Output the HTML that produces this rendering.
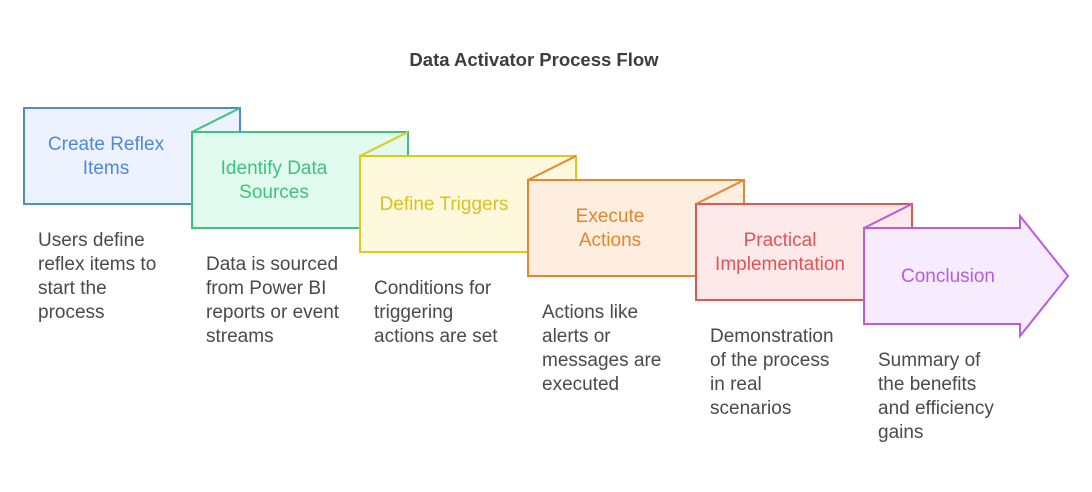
<!DOCTYPE html>
<html><head><meta charset="utf-8"><style>
html,body{margin:0;padding:0;background:#fff;}
svg{display:block;}
text{font-family:"Liberation Sans",sans-serif;}
.d{font-size:19px;fill:#4a4a4a;}
.l{font-size:19px;text-anchor:middle;}
</style></head><body>
<svg width="1092" height="492" viewBox="0 0 1092 492" xmlns="http://www.w3.org/2000/svg">
<text x="534" y="66" text-anchor="middle" style="font-size:18.5px;font-weight:bold;fill:#3d3d3d">Data Activator Process Flow</text>

<rect x="24" y="108" width="216" height="96" fill="#ecf2fe" stroke="#4f88e0" stroke-width="2"/>
<polygon points="192,132 240,108 240,132" fill="#ecf2fe"/>
<rect x="192" y="132" width="216" height="96" fill="#e1fbee" stroke="#3cc47c" stroke-width="2"/>
<line x1="192" y1="132" x2="240" y2="108" stroke="#3cc47c" stroke-width="2"/>
<line x1="240" y1="108" x2="240" y2="132" stroke="#4f88e0" stroke-width="2"/>
<rect x="360" y="156" width="216" height="96" fill="#fef9dc" stroke="#e0c81a" stroke-width="2"/>
<line x1="360" y1="156" x2="408" y2="132" stroke="#e0c81a" stroke-width="2"/>
<rect x="528" y="180" width="216" height="96" fill="#fdeedf" stroke="#e8842a" stroke-width="2"/>
<line x1="528" y1="180" x2="576" y2="156" stroke="#e8842a" stroke-width="2"/>
<rect x="696" y="204" width="216" height="96" fill="#fde9e9" stroke="#e55353" stroke-width="2"/>
<line x1="696" y1="204" x2="744" y2="180" stroke="#e8842a" stroke-width="2"/>
<polygon points="864,228 1020,228 1020,216 1068,276 1020,336 1020,324 864,324" fill="#f7ecfd" stroke="#b95ce0" stroke-width="2"/>
<line x1="864" y1="228" x2="912" y2="204" stroke="#b95ce0" stroke-width="2"/>

<text class="l" fill="#4f88e0" x="106" y="150">Create Reflex</text>
<text class="l" fill="#4f88e0" x="106" y="174">Items</text>
<text class="l" fill="#3cc47c" x="274" y="174">Identify Data</text>
<text class="l" fill="#3cc47c" x="274" y="198">Sources</text>
<text class="l" fill="#d9c21c" x="444" y="210">Define Triggers</text>
<text class="l" fill="#e8842a" x="610" y="222">Execute</text>
<text class="l" fill="#e8842a" x="610" y="246">Actions</text>
<text class="l" fill="#e55353" x="780" y="246">Practical</text>
<text class="l" fill="#e55353" x="780" y="270">Implementation</text>
<text class="l" fill="#b95ce0" x="948" y="282">Conclusion</text>

<text class="d" x="38" y="246">Users define</text>
<text class="d" x="38" y="270">reflex items to</text>
<text class="d" x="38" y="294">start the</text>
<text class="d" x="38" y="318">process</text>

<text class="d" x="206" y="270">Data is sourced</text>
<text class="d" x="206" y="294">from Power BI</text>
<text class="d" x="206" y="318">reports or event</text>
<text class="d" x="206" y="342">streams</text>

<text class="d" x="374" y="294">Conditions for</text>
<text class="d" x="374" y="318">triggering</text>
<text class="d" x="374" y="342">actions are set</text>

<text class="d" x="542" y="318">Actions like</text>
<text class="d" x="542" y="342">alerts or</text>
<text class="d" x="542" y="366">messages are</text>
<text class="d" x="542" y="390">executed</text>

<text class="d" x="710" y="342">Demonstration</text>
<text class="d" x="710" y="366">of the process</text>
<text class="d" x="710" y="390">in real</text>
<text class="d" x="710" y="414">scenarios</text>

<text class="d" x="878" y="366">Summary of</text>
<text class="d" x="878" y="390">the benefits</text>
<text class="d" x="878" y="414">and efficiency</text>
<text class="d" x="878" y="438">gains</text>
</svg>
</body></html>
